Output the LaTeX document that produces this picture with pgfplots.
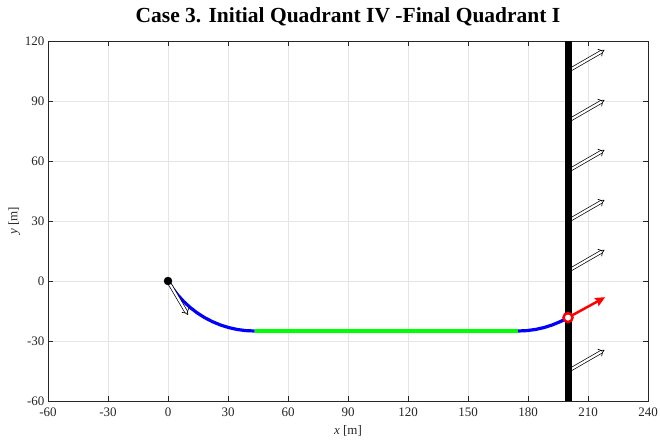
\documentclass[border=0pt]{standalone}
\usepackage{fontspec}
\setmainfont{Liberation Serif}
\usepackage{pgfplots}
\pgfplotsset{compat=1.18}
\usetikzlibrary{arrows.meta}
\definecolor{mblue}{RGB}{0,0,255}
\definecolor{mgreen}{RGB}{0,255,0}
\definecolor{mred}{RGB}{255,0,0}
\definecolor{axgray}{RGB}{38,38,38}
\begin{document}
\begin{tikzpicture}
\useasboundingbox (-48pt,-40pt) rectangle (612pt,401pt);
\begin{axis}[
  at={(0pt,0pt)}, anchor=south west,
  scale only axis, width=600pt, height=360pt,
  xmin=-60, xmax=240, ymin=-60, ymax=120,
  xtick={-60,-30,...,240}, ytick={-60,-30,...,120},
  tick align=inside, xtick pos=both, ytick pos=both,
  major tick length=5pt,
  grid=major, grid style={gray!20, line width=0.6pt},
  axis line style={axgray, line width=0.6pt},
  tick style={axgray, line width=0.6pt},
  /pgf/number format/assume math mode=true,
  ticklabel style={font=\fontsize{13}{15}\selectfont, text=axgray},
  xticklabel style={yshift=-3pt},
  label style={font=\fontsize{13}{15}\selectfont, text=axgray},
  xlabel={\textit{x} [m]}, ylabel={\textit{y} [m]},
  xlabel style={yshift=-2pt},
  ylabel style={yshift=-2pt},
  title={Case 3. Initial Quadrant IV -Final Quadrant I},
  title style={font=\fontsize{21.5}{25}\selectfont\bfseries, at={(0.5,1)}, anchor=south, yshift=5pt},
  clip=false,
]
% wind arrows
\addplot[quiver={u=\thisrow{u}, v=\thisrow{v},
    every arrow/.append style={black, line width=0.7pt, double=white, double distance=2.2pt, -{Implies}}},
  black]
  table {
x y u v
200 105 18.2 10.5
200 80 18.2 10.5
200 55 18.2 10.5
200 30 18.2 10.5
200 5 18.2 10.5
200 -45 18.2 10.5
};
% boundary line
\addplot[black, line width=7pt] coordinates {(200,-60) (200,120)};
% first arc
\addplot[mblue, line width=3.2pt] coordinates {
(0,0) (2.34,-3.68) (5.00,-7.14) (7.95,-10.36) (11.16,-13.30) (14.62,-15.96)
(18.30,-18.30) (22.17,-20.32) (26.20,-21.98) (30.36,-23.30) (34.62,-24.24)
(38.94,-24.81) (43.30,-25)};
% straight segment
\addplot[mgreen, line width=3.2pt] coordinates {(43.30,-25) (175,-25)};
% second arc
\addplot[mblue, line width=3.2pt] coordinates {
(175,-25) (179.36,-24.81) (183.68,-24.24) (187.94,-23.30) (192.10,-21.98)
(196.13,-20.32) (200,-18.30)};
% initial heading arrow
\addplot[quiver={u=\thisrow{u}, v=\thisrow{v},
    every arrow/.append style={black, line width=0.7pt, double=white, double distance=2.2pt, -{Implies}}},
  black]
  table {
x y u v
0 0 10 -17
};
% final heading arrow
\addplot[quiver={u=\thisrow{u}, v=\thisrow{v},
    every arrow/.append style={mred, line width=2.5pt, -{Stealth[length=10pt, width=9pt, inset=1.5pt]}}},
  mred]
  table {
x y u v
200 -18.3 18.6 10.2
};
% start point
\addplot[only marks, mark=*, mark size=4pt, black] coordinates {(0,0)};
% end point
\addplot[only marks, mark=*, mark size=4.5pt, mark options={draw=mred, fill=white, line width=2.5pt}] coordinates {(200,-18.3)};
\end{axis}
\end{tikzpicture}
\end{document}
